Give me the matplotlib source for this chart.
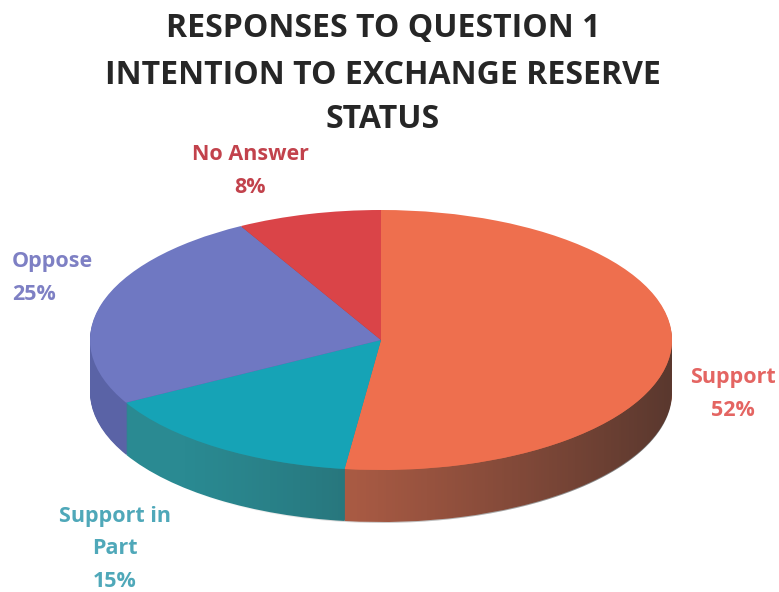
import numpy as np
import matplotlib
matplotlib.use("Agg")
import matplotlib.pyplot as plt
from matplotlib.transforms import Affine2D
from matplotlib.path import Path

# data
labels = ["Support", "Support in\nPart", "Oppose", "No Answer"]
shares = [52, 15, 25, 8]
top_colors = ["#EE6F4E", "#16A3B6", "#6F78C2", "#DA4448"]
side_colors = ["#C8684C", "#2A8A92", "#5A63A6", "#A83438"]
label_colors = ["#E46562", "#4FA8B9", "#7E80C4", "#C2424C"]

W, H = 779, 592
fig = plt.figure(figsize=(W / 100, H / 100), dpi=100)
ax = fig.add_axes([0, 0, 1, 1])

cx, cy, rx, ry, depth = 381, 340, 291, 130, 52


def squash(dy=0):
    return Affine2D().scale(rx, -ry).translate(cx, cy + dy) + ax.transData


# side: stacked pies shifted down
for dy in np.arange(depth, 0, -1.0):
    wedges, _ = ax.pie(shares, startangle=90, counterclock=False,
                       colors=side_colors, radius=1,
                       wedgeprops=dict(linewidth=0))
    for w in wedges:
        w.set_transform(squash(dy))

# shading over the rim, darker to the right
t = np.linspace(0, np.pi, 200)
xs = cx - rx * np.cos(t)
ys_top = cy + ry * np.sin(t)
band = np.vstack([np.column_stack([xs, ys_top]),
                  np.column_stack([xs[::-1], ys_top[::-1] + depth + 1])])
ramp = np.clip((np.linspace(0, 1, 256) - 0.15) / 0.85, 0, 1) ** 1.2
shade = np.zeros((1, 256, 4))
shade[..., 0:3] = 0.12
shade[..., 3] = 0.65 * ramp
im = ax.imshow(shade, extent=[cx - rx, cx + rx, cy + ry + depth + 2, cy - 10],
               aspect="auto", zorder=3, interpolation="bilinear")
im.set_clip_path(Path(band), ax.transData)

# top face
wedges, _ = ax.pie(shares, startangle=90, counterclock=False,
                   colors=top_colors, radius=1,
                   wedgeprops=dict(linewidth=0))
for w in wedges:
    w.set_transform(squash())
    w.set_zorder(4)

ax.set_xlim(0, W)
ax.set_ylim(H, 0)
ax.set_aspect("auto")
ax.axis("off")

# title
title_font = dict(family="Open Sans", fontweight="bold", fontsize=23,
                  color="#262626", ha="center", va="center")
ax.text(383, 29, "RESPONSES TO QUESTION 1", **title_font)
ax.text(383, 75, "INTENTION TO EXCHANGE RESERVE", **title_font)
ax.text(383, 119, "STATUS", **title_font)

# labels
lab_font = dict(family="Open Sans", fontweight="bold", fontsize=15.5,
                linespacing=1.72)
ax.text(250, 171, f"{labels[3]}\n{shares[3]}%", color=label_colors[3],
        ha="center", va="center", multialignment="center", **lab_font)
ax.text(12, 278, f"{labels[2]}\n{shares[2]}%", color=label_colors[2],
        ha="left", va="center", multialignment="left", **lab_font)
ax.text(733, 394, f"{labels[0]}\n{shares[0]}%", color=label_colors[0],
        ha="center", va="center", multialignment="center", **lab_font)
ax.text(115, 549, f"{labels[1]}\n{shares[1]}%", color=label_colors[1],
        ha="center", va="center", multialignment="center", **lab_font)

fig.savefig("out.png", dpi=100)
